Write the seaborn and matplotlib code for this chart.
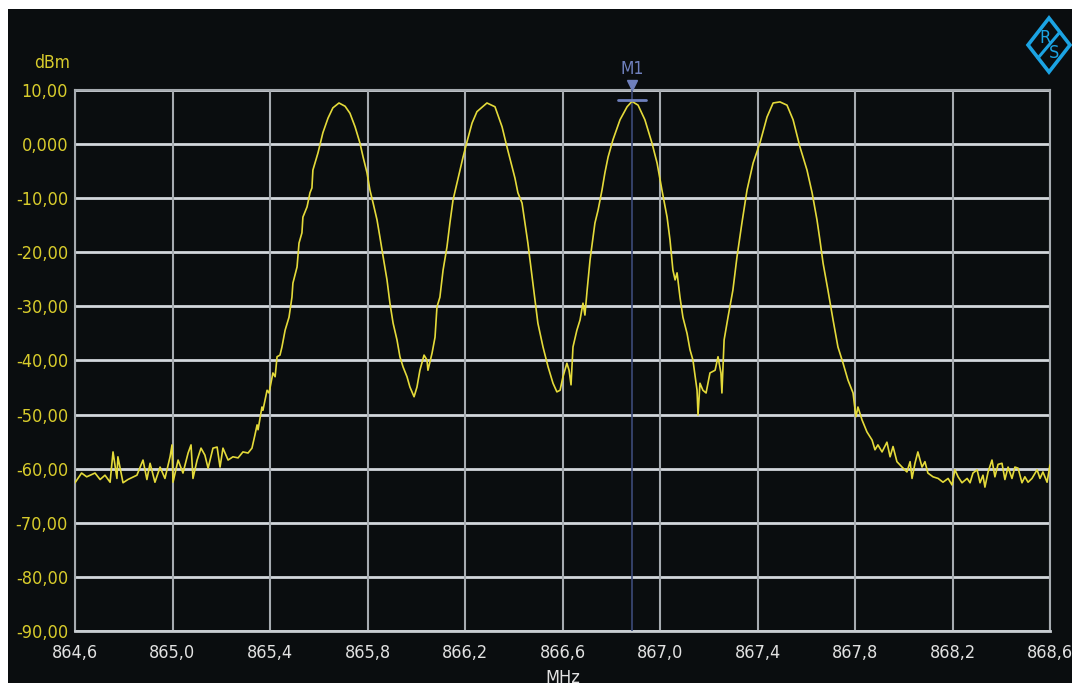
import matplotlib
matplotlib.use('Agg')
import matplotlib.pyplot as plt
from matplotlib.patches import Rectangle, Polygon
import pandas as pd
import seaborn as sns

# trace (MHz, dBm)
freq_mhz = [
    864.600, 864.627, 864.648, 864.682, 864.703, 864.723, 864.744, 864.756, 864.772, 864.776,
    864.797, 864.817, 864.854, 864.879, 864.895, 864.908, 864.928, 864.949, 864.969, 864.990,
    864.998, 865.002, 865.023, 865.043, 865.064, 865.076, 865.084, 865.101, 865.117, 865.133,
    865.146, 865.166, 865.183, 865.195, 865.207, 865.228, 865.248, 865.269, 865.289, 865.310,
    865.326, 865.338, 865.347, 865.351, 865.367, 865.371, 865.388, 865.396, 865.412, 865.421,
    865.429, 865.441, 865.449, 865.462, 865.478, 865.490, 865.494, 865.511, 865.519, 865.531,
    865.535, 865.552, 865.564, 865.572, 865.576, 865.597, 865.617, 865.638, 865.658, 865.683,
    865.708, 865.728, 865.749, 865.769, 865.782, 865.798, 865.810, 865.823, 865.839, 865.851,
    865.864, 865.880, 865.892, 865.905, 865.921, 865.933, 865.946, 865.962, 865.974, 865.991,
    866.003, 866.015, 866.032, 866.044, 866.048, 866.065, 866.077, 866.085, 866.097, 866.110,
    866.126, 866.138, 866.151, 866.167, 866.179, 866.192, 866.208, 866.229, 866.249, 866.290,
    866.323, 866.352, 866.372, 866.393, 866.405, 866.417, 866.434, 866.446, 866.458, 866.475,
    866.487, 866.499, 866.520, 866.541, 866.561, 866.577, 866.590, 866.602, 866.618, 866.627,
    866.635, 866.643, 866.659, 866.672, 866.684, 866.692, 866.701, 866.713, 866.733, 866.746,
    866.762, 866.774, 866.787, 866.807, 866.836, 866.865, 866.885, 866.910, 866.938, 866.967,
    866.988, 867.008, 867.029, 867.041, 867.053, 867.062, 867.070, 867.082, 867.094, 867.111,
    867.123, 867.135, 867.152, 867.156, 867.164, 867.176, 867.189, 867.205, 867.226, 867.238,
    867.250, 867.254, 867.263, 867.279, 867.299, 867.316, 867.336, 867.357, 867.382, 867.410,
    867.439, 867.464, 867.492, 867.521, 867.546, 867.574, 867.603, 867.624, 867.644, 867.656,
    867.669, 867.689, 867.710, 867.730, 867.751, 867.771, 867.792, 867.804, 867.812, 867.829,
    867.849, 867.870, 867.882, 867.894, 867.911, 867.931, 867.944, 867.956, 867.972, 867.993,
    868.013, 868.026, 868.034, 868.046, 868.058, 868.075, 868.087, 868.099, 868.120, 868.141,
    868.161, 868.182, 868.198, 868.210, 868.223, 868.239, 868.260, 868.272, 868.284, 868.301,
    868.313, 868.325, 868.333, 868.346, 868.362, 868.374, 868.387, 868.403, 868.415, 868.428,
    868.444, 868.456, 868.469, 868.485, 868.497, 868.510, 868.526, 868.547, 868.559, 868.571,
    868.588, 868.600,
]
level_dbm = [
    -62.6, -60.8, -61.5, -60.8, -62.0, -61.2, -62.5, -56.9, -61.8, -57.8,
    -62.6, -62.0, -61.2, -58.4, -62.0, -59.0, -62.5, -59.7, -61.8, -57.8,
    -55.6, -62.5, -58.4, -60.8, -57.1, -55.6, -61.8, -58.4, -56.2, -57.5,
    -59.9, -56.2, -56.0, -59.7, -56.2, -58.4, -57.8, -58.0, -56.9, -57.1,
    -56.2, -53.8, -51.9, -52.8, -48.6, -49.2, -45.5, -46.0, -42.3, -43.0,
    -39.3, -39.0, -37.5, -34.4, -32.0, -28.3, -25.7, -22.7, -18.3, -16.4,
    -13.5, -11.6, -9.0, -8.1, -4.8, -1.6, 2.1, 4.8, 6.7, 7.6,
    7.0, 5.7, 3.2, 0.2, -2.4, -5.3, -8.5, -10.9, -14.0, -17.2,
    -20.8, -25.1, -29.4, -33.1, -36.2, -39.3, -41.2, -43.0, -44.9, -46.7,
    -44.9, -41.8, -39.0, -39.9, -41.8, -38.6, -35.7, -30.1, -28.3, -23.3,
    -19.0, -14.6, -10.3, -7.2, -4.8, -2.4, 0.4, 3.9, 6.0, 7.6,
    6.9, 3.2, -0.5, -4.2, -6.3, -9.0, -10.9, -14.6, -18.3, -24.5,
    -28.8, -33.1, -37.5, -41.2, -44.2, -45.8, -45.5, -43.0, -40.5, -41.8,
    -44.5, -37.5, -34.4, -32.5, -29.4, -31.6, -27.0, -21.4, -14.6, -12.2,
    -8.5, -5.3, -2.4, 0.8, 4.5, 6.9, 7.9, 7.2, 4.5, 0.2,
    -3.5, -8.5, -13.5, -17.7, -23.3, -25.1, -23.8, -28.3, -32.0, -35.0,
    -38.0, -39.9, -45.5, -50.1, -44.2, -45.5, -46.0, -42.3, -41.8, -39.3,
    -42.3, -46.0, -36.2, -32.0, -27.0, -20.8, -14.6, -8.5, -3.5, 0.2,
    5.0, 7.6, 7.8, 7.2, 4.5, -0.5, -4.8, -9.0, -14.0, -17.7,
    -22.0, -27.0, -32.5, -37.5, -40.5, -43.6, -46.0, -50.4, -48.6, -51.0,
    -53.2, -54.7, -56.5, -55.6, -56.9, -55.1, -57.8, -55.9, -58.7, -59.7,
    -60.6, -58.7, -61.8, -59.0, -56.9, -59.7, -58.7, -60.8, -61.5, -61.8,
    -62.5, -61.8, -63.0, -60.2, -61.5, -62.6, -61.8, -62.6, -60.8, -60.2,
    -62.6, -61.2, -63.4, -60.6, -58.4, -61.5, -59.2, -59.0, -62.0, -59.7,
    -61.8, -59.7, -59.9, -62.6, -61.5, -62.5, -61.8, -60.2, -61.8, -60.6,
    -62.5, -59.3,
]

y_ticks = [10, 0, -10, -20, -30, -40, -50, -60, -70, -80, -90]
y_tick_labels = ['10,00', '0,000', '-10,00', '-20,00', '-30,00', '-40,00',
                 '-50,00', '-60,00', '-70,00', '-80,00', '-90,00']
x_ticks = [864.6, 865.0, 865.4, 865.8, 866.2, 866.6, 867.0, 867.4, 867.8, 868.2, 868.6]
x_tick_labels = ['864,6', '865,0', '865,4', '865,8', '866,2', '866,6',
                 '867,0', '867,4', '867,8', '868,2', '868,6']

marker_freq = 866.885
marker_level = 8.1

BG = '#0a0d0f'
TRACE = '#e4da3a'
YEL_TXT = '#d8cc2c'
MARK = '#6f80bd'
LOGO = '#1ba3e3'

sns.set_theme(style='dark', rc={'axes.facecolor': BG, 'figure.facecolor': 'white'})
plt.rcParams['font.family'] = ['DejaVu Sans']
plt.rcParams['font.stretch'] = 'condensed'

W, H = 1072, 683
fig = plt.figure(figsize=(W / 100, H / 100), dpi=100)
fig.patches.append(Rectangle((8 / W, 0), 1, 1 - 9 / H, transform=fig.transFigure,
                             facecolor=BG, edgecolor='none', zorder=-5))

ax = fig.add_axes([75 / W, 1 - 631 / H, 975 / W, 541 / H])
ax.set_facecolor(BG)

df = pd.DataFrame({'freq': freq_mhz, 'level': level_dbm})
sns.lineplot(data=df, x='freq', y='level', ax=ax, color=TRACE, linewidth=1.2,
             estimator=None, sort=False, zorder=4)

ax.set_xlim(864.6, 868.6)
ax.set_ylim(-90, 10)
ax.set_xticks(x_ticks)
ax.set_xticklabels(x_tick_labels)
ax.set_yticks(y_ticks)
ax.set_yticklabels(y_tick_labels)
ax.tick_params(axis='both', length=0, labelsize=13)
ax.tick_params(axis='y', colors=YEL_TXT, pad=5)
ax.tick_params(axis='x', colors='#e2e2e2', pad=9)
ax.set_xlabel('')
ax.set_ylabel('')

for y in y_ticks:
    ax.axhline(y, color='#d2d7dc', linewidth=2.0, zorder=1)
for x in x_ticks:
    ax.axvline(x, color='#a6abb0', linewidth=1.5, zorder=1)
for side, sp in ax.spines.items():
    sp.set_visible(True)
    sp.set_color('#a6abb0')
    sp.set_linewidth(1.5)
ax.spines['bottom'].set_color('#c8cdd2')
ax.spines['bottom'].set_linewidth(2.0)

# marker M1
ax.axvline(marker_freq, color='#3c4a78', linewidth=1.2, zorder=3)
ax.plot([marker_freq - 0.058, marker_freq + 0.058], [marker_level, marker_level],
        color=MARK, linewidth=2, zorder=5)
ax.plot([marker_freq], [10.9], marker='v', markersize=7, color=MARK,
        clip_on=False, zorder=6)
ax.text(marker_freq, 12.3, 'M1', color=MARK, fontsize=12.5, ha='center', va='bottom')

fig.text(52 / W, 1 - 63 / H, 'dBm', color=YEL_TXT, fontsize=12.5, ha='center', va='center')
fig.text(563 / W, 1 - 669 / H, 'MHz', color='#e2e2e2', fontsize=13, ha='center', va='top')

# R&S logo in pixel coordinates
logo = fig.add_axes([0, 0, 1, 1], facecolor='none')
logo.set_xlim(0, W)
logo.set_ylim(H, 0)
logo.axis('off')
cx, cy, hw, hh = 1049, 45, 21, 27
logo.add_patch(Polygon([(cx, cy - hh), (cx + hw, cy), (cx, cy + hh), (cx - hw, cy)],
                       closed=True, fill=False, edgecolor=LOGO, linewidth=2.6))
logo.plot([cx - 11, cx + 11], [cy + 13, cy - 13], color=LOGO, linewidth=2.2)
logo.text(cx - 4, cy - 7, 'R', color=LOGO, fontsize=13, ha='center', va='center')
logo.text(cx + 5, cy + 8, 'S', color=LOGO, fontsize=13, ha='center', va='center')

fig.savefig('out.png', dpi=100, facecolor='white')
